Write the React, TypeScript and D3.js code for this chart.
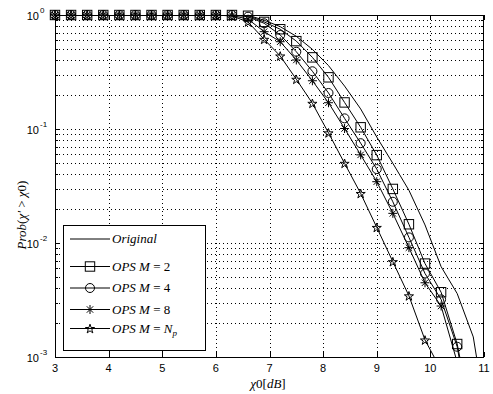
import React, { useEffect, useRef } from 'react';
import * as d3 from 'd3';

// chi0 [dB] sample points
const xs = [3, 3.3, 3.6, 3.9, 4.2, 4.5, 4.8, 5.1, 5.4, 5.7, 6.0, 6.3, 6.6, 6.9, 7.2, 7.5, 7.8, 8.1, 8.4, 8.7, 9.0, 9.3, 9.6, 9.9, 10.2, 10.5, 10.8, 11.1];

const original = [1, 1, 1, 1, 1, 1, 1, 1, 1, 1, 1, 1, 0.995, 0.9, 0.79, 0.65, 0.5, 0.36, 0.238, 0.15, 0.085, 0.05, 0.029, 0.0144, 0.0062, 0.0036, 0.0015, 0.0002];
const opsM2 = [1, 1, 1, 1, 1, 1, 1, 1, 1, 1, 1, 1, 0.985, 0.87, 0.75, 0.59, 0.425, 0.284, 0.171, 0.1035, 0.059, 0.0298, 0.0146, 0.0066, 0.0037, 0.0013, 0.00025, 0.00004];
const opsM4 = [1, 1, 1, 1, 1, 1, 1, 1, 1, 1, 1, 1, 0.966, 0.846, 0.668, 0.476, 0.321, 0.207, 0.124, 0.0751, 0.0445, 0.023, 0.0112, 0.0054, 0.0032, 0.00123, 0.0002, 0.00003];
const opsM8 = [1, 1, 1, 1, 1, 1, 1, 1, 1, 1, 1, 0.99, 0.92, 0.714, 0.583, 0.403, 0.265, 0.17, 0.101, 0.0593, 0.0345, 0.0182, 0.0091, 0.00448, 0.0028, 0.0009, 0.00015, 0.00002];
const opsNp = [1, 1, 1, 1, 1, 1, 1, 1, 1, 1, 1, 0.98, 0.87, 0.612, 0.437, 0.273, 0.168, 0.0925, 0.05, 0.0272, 0.0137, 0.00686, 0.00344, 0.00141, 0.00077, 0.0002, 0.00003, 0.000005];

const xTicks = [3, 4, 5, 6, 7, 8, 9, 10, 11];
const yDecades = [1, 0.1, 0.01, 0.001];
const yDecadeExp = ['0', '-1', '-2', '-3'];

const W = 493;
const H = 394;
const left = 55, right = 484, top = 15, bottom = 357;

type Marker = 'none' | 'square' | 'circle' | 'asterisk' | 'pentagram';

const series: { values: number[]; marker: Marker; label: string }[] = [
  { values: original, marker: 'none', label: 'Original' },
  { values: opsM2, marker: 'square', label: '2' },
  { values: opsM4, marker: 'circle', label: '4' },
  { values: opsM8, marker: 'asterisk', label: '8' },
  { values: opsNp, marker: 'pentagram', label: 'Np' },
];

function drawMarker(g: any, kind: Marker, x: number, y: number) {
  if (kind === 'square') {
    const s = 4.7;
    g.append('rect').attr('x', x - s).attr('y', y - s).attr('width', 2 * s).attr('height', 2 * s)
      .attr('fill', 'none').attr('stroke', '#000').attr('stroke-width', 1);
  } else if (kind === 'circle') {
    g.append('circle').attr('cx', x).attr('cy', y).attr('r', 4.5)
      .attr('fill', 'none').attr('stroke', '#000').attr('stroke-width', 1);
  } else if (kind === 'asterisk') {
    const r = 4.5, d = 3.2;
    g.append('path')
      .attr('d', `M${x},${y - r}V${y + r}M${x - r},${y}H${x + r}M${x - d},${y - d}L${x + d},${y + d}M${x - d},${y + d}L${x + d},${y - d}`)
      .attr('stroke', '#000').attr('stroke-width', 1).attr('fill', 'none');
  } else if (kind === 'pentagram') {
    g.append('path')
      .attr('d', d3.symbol(d3.symbolStar, 26)())
      .attr('transform', `translate(${x},${y + 0.5})`)
      .attr('fill', 'none').attr('stroke', '#000').attr('stroke-width', 1);
  }
}

export default function App() {
  const ref = useRef<SVGSVGElement>(null);

  useEffect(() => {
    const svg = d3.select(ref.current);
    svg.selectAll('*').remove();

    const x = d3.scaleLinear().domain([3, 11]).range([left, right]);
    const y = d3.scaleLog().domain([0.001, 1]).range([bottom, top]);

    svg.append('rect').attr('width', W).attr('height', H).attr('fill', '#fff');

    svg.append('clipPath').attr('id', 'plotclip')
      .append('rect').attr('x', left).attr('y', top).attr('width', right - left).attr('height', bottom - top);

    // dotted grid
    const grid = svg.append('g').attr('stroke', '#000').attr('stroke-width', 1)
      .attr('stroke-dasharray', '1,3').attr('shape-rendering', 'crispEdges');
    xTicks.slice(1, -1).forEach(t => {
      grid.append('line').attr('x1', Math.round(x(t)) + 0.5).attr('x2', Math.round(x(t)) + 0.5)
        .attr('y1', top).attr('y2', bottom);
    });
    const minorY: number[] = [];
    [0.001, 0.01, 0.1].forEach(dec => {
      for (let k = 1; k <= 9; k++) minorY.push(dec * k);
    });
    minorY.filter(v => v > 0.001 && v < 1).forEach(v => {
      grid.append('line').attr('y1', Math.round(y(v)) + 0.5).attr('y2', Math.round(y(v)) + 0.5)
        .attr('x1', left).attr('x2', right);
    });

    // curves
    const line = d3.line<number>()
      .x((_, i) => x(xs[i]))
      .y(d => y(Math.max(d, 1e-7)));
    const plot = svg.append('g').attr('clip-path', 'url(#plotclip)');
    series.forEach(s => {
      plot.append('path').attr('d', line(s.values)).attr('fill', 'none')
        .attr('stroke', '#000').attr('stroke-width', 1);
    });
    const marks = svg.append('g');
    series.forEach(s => {
      if (s.marker === 'none') return;
      s.values.forEach((v, i) => {
        if (v < 0.001 || xs[i] > 11) return;
        drawMarker(marks, s.marker, x(xs[i]), y(v));
      });
    });

    // axes box and ticks
    const ax = svg.append('g').attr('stroke', '#000').attr('stroke-width', 1).attr('shape-rendering', 'crispEdges');
    ax.append('rect').attr('x', left + 0.5).attr('y', top + 0.5).attr('width', right - left - 1).attr('height', bottom - top)
      .attr('fill', 'none');
    xTicks.forEach(t => {
      const px = Math.round(x(t)) + 0.5;
      ax.append('line').attr('x1', px).attr('x2', px).attr('y1', bottom).attr('y2', bottom - 5);
      ax.append('line').attr('x1', px).attr('x2', px).attr('y1', top).attr('y2', top + 5);
    });
    [0.001, 0.01, 0.1].forEach(dec => {
      for (let k = 1; k <= 10; k++) {
        const v = dec * k;
        const py = Math.round(y(v)) + 0.5;
        const len = k === 1 || k === 10 ? 5 : 3;
        ax.append('line').attr('x1', left).attr('x2', left + len).attr('y1', py).attr('y2', py);
        ax.append('line').attr('x1', right).attr('x2', right - len).attr('y1', py).attr('y2', py);
      }
    });

    const font = 'Liberation Sans, Arial, sans-serif';
    xTicks.forEach(t => {
      svg.append('text').attr('x', x(t)).attr('y', 372).attr('text-anchor', 'middle')
        .attr('font-family', font).attr('font-size', 11).text(String(t));
    });
    yDecades.forEach((v, i) => {
      svg.append('text').attr('x', 39).attr('y', y(v) + 5).attr('text-anchor', 'end')
        .attr('font-family', font).attr('font-size', 11).text('10');
      svg.append('text').attr('x', 40).attr('y', y(v) - 2).attr('font-family', font).attr('font-size', 8)
        .text(yDecadeExp[i]);
    });

    const serif = 'Liberation Serif, Times New Roman, serif';
    const xl = svg.append('text').attr('x', 268).attr('y', 388).attr('text-anchor', 'middle')
      .attr('font-family', serif).attr('font-size', 13);
    xl.append('tspan').attr('font-style', 'italic').text('χ');
    xl.append('tspan').text('0[');
    xl.append('tspan').attr('font-style', 'italic').text('dB');
    xl.append('tspan').text(']');

    const yl = svg.append('text').attr('transform', 'translate(26,215) rotate(-90)').attr('text-anchor', 'middle')
      .attr('font-family', serif).attr('font-size', 13);
    yl.append('tspan').attr('font-style', 'italic').text('Prob');
    yl.append('tspan').text('(');
    yl.append('tspan').attr('font-style', 'italic').text('χ′');
    yl.append('tspan').text(' > ');
    yl.append('tspan').attr('font-style', 'italic').text('χ');
    yl.append('tspan').text('0)');

    // legend
    const lg = svg.append('g');
    lg.append('rect').attr('x', 63.5).attr('y', 225.5).attr('width', 142).attr('height', 125)
      .attr('fill', '#fff').attr('stroke', '#000').attr('stroke-width', 1).attr('shape-rendering', 'crispEdges');
    const rows = [239, 266.5, 288, 309.5, 328.5];
    series.forEach((s, i) => {
      const ry = rows[i];
      lg.append('line').attr('x1', 70).attr('x2', 110).attr('y1', ry).attr('y2', ry)
        .attr('stroke', '#000').attr('stroke-width', 1);
      drawMarker(lg, s.marker, 90, ry);
      const t = lg.append('text').attr('x', 112).attr('y', ry + 4).attr('font-family', serif).attr('font-size', 13);
      if (s.marker === 'none') {
        t.append('tspan').attr('font-style', 'italic').text('Original');
      } else {
        t.append('tspan').attr('font-style', 'italic').text('OPS M');
        t.append('tspan').text(' = ');
        if (s.label === 'Np') {
          t.append('tspan').attr('font-style', 'italic').text('N');
          t.append('tspan').attr('font-style', 'italic').attr('font-size', 9).attr('dy', 3).text('p');
        } else {
          t.append('tspan').text(s.label);
        }
      }
    });
  }, []);

  return (
    <svg ref={ref} width={W} height={H} style={{ position: 'absolute', left: 0, top: 0 }} />
  );
}
